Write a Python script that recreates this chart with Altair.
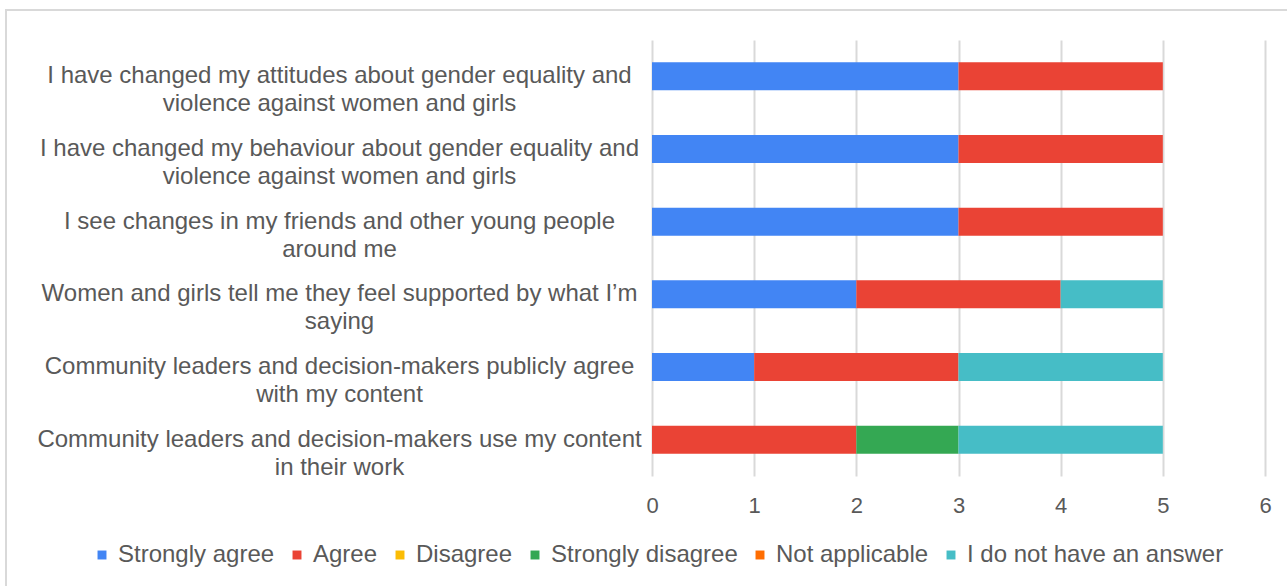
import altair as alt
import pandas as pd

categories = [
    "I have changed my attitudes about gender equality and|violence against women and girls",
    "I have changed my behaviour about gender equality and|violence against women and girls",
    "I see changes in my friends and other young people|around me",
    "Women and girls tell me they feel supported by what  I\u2019m|saying",
    "Community leaders and decision-makers publicly agree|with my content",
    "Community leaders and decision-makers use my content|in their work",
]
responses = ["Strongly agree", "Agree", "Disagree", "Strongly disagree",
             "Not applicable", "I do not have an answer"]
colors = ["#4285F4", "#EA4335", "#FBBC04", "#34A853", "#FF6D01", "#46BDC6"]

strongly_agree = [3, 3, 3, 2, 1, 0]
agree = [2, 2, 2, 2, 2, 2]
disagree = [0, 0, 0, 0, 0, 0]
strongly_disagree = [0, 0, 0, 0, 0, 1]
not_applicable = [0, 0, 0, 0, 0, 0]
no_answer = [0, 0, 0, 1, 2, 2]

series = [strongly_agree, agree, disagree, strongly_disagree, not_applicable, no_answer]
rows = []
for ri, (resp, vals) in enumerate(zip(responses, series)):
    for cat, v in zip(categories, vals):
        rows.append({"statement": cat, "response": resp, "value": v, "ord": ri})
df = pd.DataFrame(rows)

bars = alt.Chart(df).mark_bar().encode(
    y=alt.Y("statement:N", sort=categories, title=None,
            scale=alt.Scale(paddingInner=0.615, paddingOuter=0.3075),
            axis=alt.Axis(labelExpr="split(datum.label, '|')", labelAlign="center",
                          labelBaseline="middle", labelPadding=313, ticks=False,
                          domain=False, labelFont="Liberation Sans", labelFontSize=24,
                          labelColor="#595959", labelLineHeight=28, labelLimit=0)),
    x=alt.X("value:Q", stack="zero", title=None,
            scale=alt.Scale(domain=[0, 6], nice=False),
            axis=alt.Axis(values=[0, 1, 2, 3, 4, 5, 6], grid=True, gridColor="#d9d9d9",
                          gridWidth=2, ticks=False, domain=False, labelPadding=19,
                          labelFlush=False, labelFont="Liberation Sans", labelFontSize=22,
                          labelColor="#595959")),
    color=alt.Color("response:N", scale=alt.Scale(domain=responses, range=colors),
                    legend=alt.Legend(title=None, orient="none", direction="horizontal",
                                      legendX=-562, legendY=503, symbolType="square",
                                      symbolSize=80, symbolStrokeWidth=0,
                                      labelFont="Liberation Sans", labelFontSize=24,
                                      labelColor="#595959", columnPadding=10,
                                      labelOffset=4, padding=0, labelLimit=0)),
    order=alt.Order("ord:Q"),
)

frame = alt.Chart(alt.Data(values=[{}])).mark_rect(
    filled=False, stroke="#d9d9d9", strokeWidth=2
).encode(x=alt.value(-646), x2=alt.value(700), y=alt.value(-30), y2=alt.value(600))

chart = alt.layer(frame, bars).properties(
    width=613, height=436,
    autosize=alt.AutoSizeParams(type="none"),
    padding={"left": 652, "top": 40, "right": 22, "bottom": 110},
).configure(background="white", view=alt.ViewConfig(stroke=None))

chart.save("out.html", embed_options={"renderer": "svg", "actions": False})
